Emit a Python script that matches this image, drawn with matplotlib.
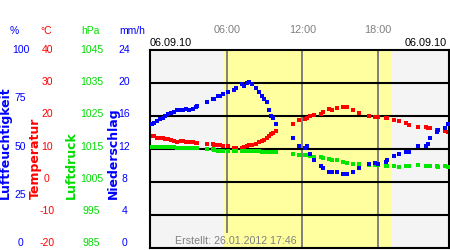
import matplotlib
matplotlib.use("Agg")
import matplotlib.pyplot as plt
import matplotlib.transforms as mtransforms

# ---------------- data ----------------
hours = [0.0, 0.22, 0.46, 0.68, 0.89, 1.07, 1.34, 1.53, 1.79, 2.0, 2.35, 2.48, 2.74, 3.0,
         3.27, 3.51, 3.64, 4.39, 4.86, 4.99, 5.31, 5.45, 5.66, 6.06, 6.58, 6.71, 7.17, 7.38,
         7.56, 7.75, 7.96, 8.31, 8.57, 8.81, 8.94, 9.16, 9.37, 9.5, 9.68, 9.9, 11.27, 11.72,
         12.2, 12.34, 12.6, 12.94, 13.45, 13.66, 14.13, 14.35, 14.77, 15.25, 15.57, 15.99,
         16.52, 17.31, 17.77, 18.03, 18.64, 18.75, 19.28, 19.7, 20.23, 20.5, 21.21, 21.8,
         22.0, 22.14, 22.67, 22.8, 23.33, 23.6]

humidity = [62.6, 63.3, 64.3, 65.3, 65.8, 66.8, 67.5, 68.3, 68.7, 69.5, 69.5, 69.5, 70.4, 69.5,
            70.4, 71.4, 71.6, 73.6, 75.4, 75.4, 76.6, 76.6, 77.6, 78.6, 79.6, 80.6, 82.7, 81.7,
            83.3, 83.8, 82.7, 80.6, 78.6, 76.6, 75.4, 73.6, 69.5, 66.5, 65.7, 62.5, 55.4, 51.4,
            50.7, 51.4, 47.5, 44.3, 41.4, 40.2, 38.2, 38.2, 38.2, 37.2, 37.2, 38.2,
            40.2, 42.3, 43.1, 42.3, 43.3, 44.3, 46.3, 47.3, 48.3, 48.3, 51.4, 51.4,
            52.4, 55.4, 58.5, 59.4, 60.5, 62.5]

temperature = [14.0, 13.85, 13.4, 13.2, 13.2, 12.9, 12.9, 12.6, 12.5, 12.2, 12.3, 12.3, 12.0, 12.0,
               12.0, 11.7, 11.7, 11.4, 11.4, 11.1, 11.1, 11.1, 10.8, 10.8, 10.3, 10.3, 10.3, 10.5,
               10.8, 11.1, 11.1, 11.4, 12.0, 12.4, 12.8, 13.4, 13.9, 14.4, 14.9, 15.4, 17.5, 18.7,
               19.0, 19.4, 19.9, 20.2, 20.7, 21.1, 22.0, 21.7, 22.3, 22.6, 22.6, 21.7,
               20.8, 19.9, 19.6, 19.6, 19.3, 19.3, 18.7, 18.4, 17.8, 17.2, 16.6, 16.6,
               16.3, 16.3, 15.7, 15.7, 15.4, 15.1]

pressure = [1015.5, 1015.5, 1015.5, 1015.5, 1015.5, 1015.5, 1015.5, 1015.5, 1015.5, 1015.4, 1015.4,
            1015.4, 1015.4, 1015.4, 1015.4, 1015.4, 1015.4, 1015.0, 1015.0, 1014.6, 1014.4, 1014.4,
            1014.4, 1014.4, 1014.3, 1014.3, 1014.3, 1014.3, 1014.3, 1014.3, 1014.3, 1014.3, 1014.3,
            1014.0, 1014.0, 1014.0, 1014.0, 1014.0, 1014.0, 1014.0, 1013.6, 1013.1,
            1013.2, 1013.1, 1012.8, 1012.6, 1012.6, 1012.2, 1011.9, 1011.6, 1011.6, 1011.0, 1010.8,
            1010.4, 1010.4, 1010.2, 1010.2, 1010.2, 1009.8, 1009.8, 1009.8, 1009.5, 1009.7, 1009.8,
            1010.2, 1010.0, 1009.8, 1009.8, 1009.8, 1009.5, 1009.8, 1009.5]

hum_ticks = [100, 75, 50, 25, 0]
temp_ticks = [40, 30, 20, 10, 0, -10, -20]
pres_ticks = [1045, 1035, 1025, 1015, 1005, 995, 985]
rain_ticks = [24, 20, 16, 12, 8, 4, 0]
time_ticks = [6, 12, 18]
time_labels = ["06:00", "12:00", "18:00"]
date_label = "06.09.10"
created_label = "Erstellt: 26.01.2012 17:46"
daylight = (5.68, 19.04)

# ---------------- figure ----------------
W, H = 450, 250
fig = plt.figure(figsize=(4.5, 2.5), dpi=100)
fig.patch.set_facecolor("white")

def fx(px):
    return px / W

def fy(py):
    return 1 - py / H

ax = fig.add_axes([fx(150), fy(248), fx(449) - fx(150), fy(50) - fy(248)])
ax_p = ax.twinx()
ax_h = ax.twinx()

ax.set_xlim(-0.12, 23.65)
ax.set_ylim(-20, 40)
ax.set_facecolor("#f4f4f4")
ax.axvspan(daylight[0], daylight[1], color="#ffffa0", zorder=0, lw=0)
ax.set_yticks([-10, 0, 10, 20, 30])
ax.set_xticks([])
ax.grid(axis="y", color="black", lw=1.5, zorder=1)
for i, t in enumerate(time_ticks):
    ax.axvline(t, ymin=(0.08 if i == 0 else 0), ymax=1, color="#808080", lw=1.4, zorder=1)
for s in ax.spines.values():
    s.set_color("black")
    s.set_linewidth(1.5)
    s.set_zorder(10)

ax_p.set_ylim(985, 1045)
ax_h.set_ylim(0, 100)
for a in (ax_p, ax_h):
    a.set_yticks([])
    a.patch.set_visible(False)
    for s in a.spines.values():
        s.set_visible(False)
for a in (ax, ax_p, ax_h):
    a.tick_params(which="both", left=False, right=False, top=False, bottom=False,
                  labelleft=False, labelright=False, labelbottom=False, labeltop=False)

ms = 2.5
ax_p.plot(hours, pressure, ls="none", marker="s", ms=ms, mew=0, color="#00e600", zorder=3)
ax_h.plot(hours, humidity, ls="none", marker="s", ms=ms, mew=0, color="#0000ff", zorder=4)
ax.plot(hours, temperature, ls="none", marker="s", ms=ms, mew=0, color="#ff0000", zorder=5)

# ---------------- texts ----------------
font = ["Liberation Sans", "DejaVu Sans"]
num_fs = 7.5
top_px, bot_px = 50, 243.3

def ypix(v, vmin, vmax):
    return top_px + (vmax - v) / (vmax - vmin) * (bot_px - top_px)

cols = [
    ("%", 14, 20.5, hum_ticks, 0, 100, "#0000ff"),
    ("°C", 46.5, 47, temp_ticks, -20, 40, "#ff0000"),
    ("hPa", 90, 91.5, pres_ticks, 985, 1045, "#00dd00"),
    ("mm/h", 132.5, 124.5, rain_ticks, 0, 24, "#0000ff"),
]
for head, hx, nx, ticks, vmin, vmax, col in cols:
    fig.text(fx(hx), fy(31), head, ha="center", va="center", fontsize=num_fs, color=col, family=font)
    for v in ticks:
        fig.text(fx(nx), fy(ypix(v, vmin, vmax)), str(v), ha="center", va="center",
                 fontsize=num_fs, color=col, family=font)

rot = [("Luftfeuchtigkeit", 5, "#0000ff"), ("Temperatur", 35.5, "#ff0000"),
       ("Luftdruck", 71.5, "#00dd00"), ("Niederschlag", 113, "#0000ff")]
for txt, x, col in rot:
    fig.text(fx(x), fy(199), txt, rotation=90, ha="center", va="bottom", fontsize=9,
             fontweight="bold", color=col, family=["DejaVu Sans"])

trans = mtransforms.blended_transform_factory(ax.transData, fig.transFigure)
for t, lab in zip(time_ticks, time_labels):
    ax.text(t, fy(30), lab, transform=trans, ha="center", va="center", fontsize=7.8,
            color="#808080", family=font)

fig.text(fx(150), fy(43), date_label, ha="left", va="center", fontsize=7.8, color="black", family=font)
fig.text(fx(447), fy(43), date_label, ha="right", va="center", fontsize=7.8, color="black", family=font)
fig.text(fx(175), fy(241), created_label, ha="left", va="center", fontsize=7.7, color="#808080",
         family=font, zorder=20)

fig.savefig("out.png", dpi=100)
